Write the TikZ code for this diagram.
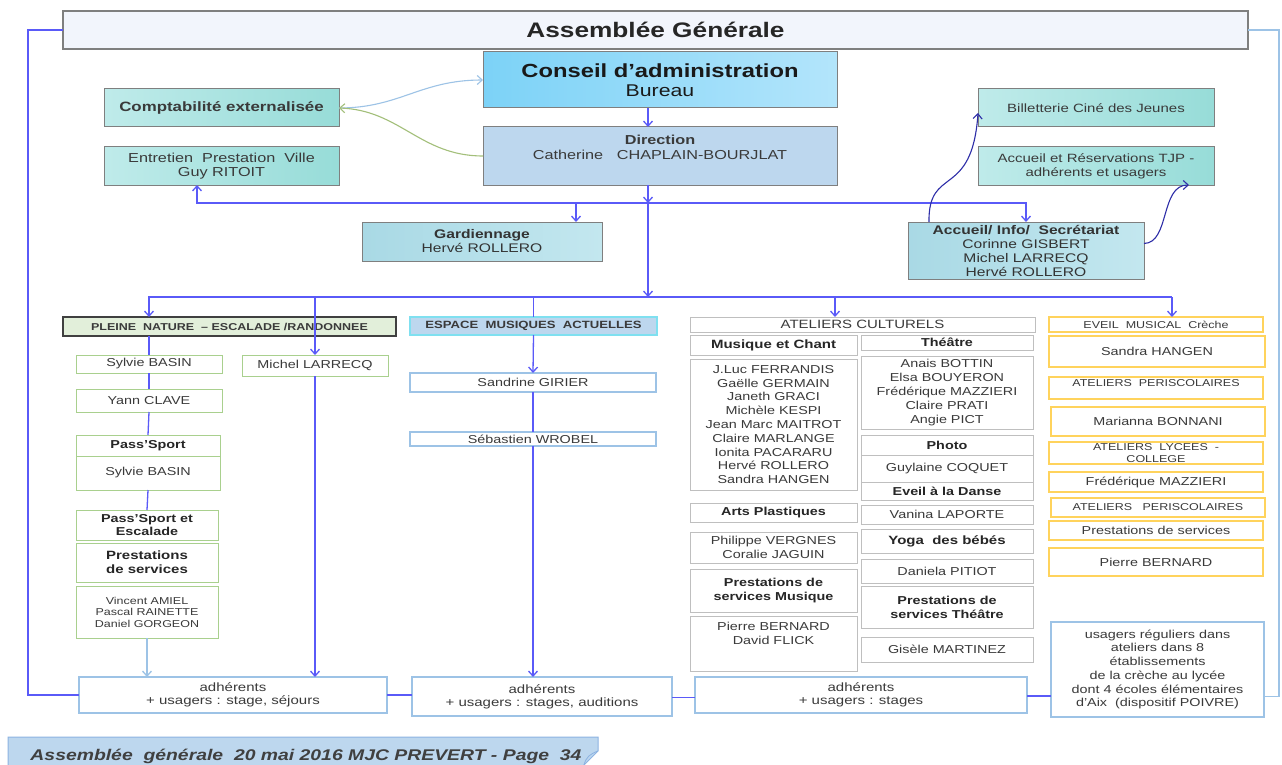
\documentclass[tikz,border=0pt]{standalone}
\usepackage{fontspec}
\setmainfont{Liberation Sans}[FakeStretch=1.25]
\usetikzlibrary{arrows.meta}
\definecolor{conncol}{HTML}{5A5AF8}
\definecolor{lconncol}{HTML}{9DC3E6}
\definecolor{darkcurve}{HTML}{2E2EA8}
\definecolor{greencurve}{HTML}{A3BF7A}
\definecolor{txt}{HTML}{3A3A3A}
\definecolor{gborder}{HTML}{A9D08E}
\definecolor{oborder}{HTML}{FFD35C}
\definecolor{grayborder}{HTML}{BFBFBF}
\definecolor{bborder}{HTML}{9DC3E6}
\definecolor{boxgray}{HTML}{7F7F7F}
\definecolor{tealL}{HTML}{BFEBEA}
\definecolor{tealR}{HTML}{97DCD8}
\definecolor{caL}{HTML}{7CD2F7}
\definecolor{caR}{HTML}{B3E5FB}
\definecolor{dirfill}{HTML}{BDD7EE}
\definecolor{texL}{HTML}{A9D9E5}
\definecolor{texR}{HTML}{C3E7EF}
\definecolor{pnfill}{HTML}{E2EFDA}
\definecolor{espborder}{HTML}{7FE0F0}
\definecolor{agfill}{HTML}{F2F5FC}
\definecolor{footborder}{HTML}{8DB3E2}
\newcommand\fs[2]{\fontsize{#1}{#2}\selectfont}
\newcommand\bx[7]{\node[#2,minimum width=#5pt,minimum height=#6pt,anchor=north west] (#1) at (#3,#4) {#7};}
\begin{document}
\begin{tikzpicture}[x=1pt,y=-1pt,
  base/.style={inner sep=1pt,outer sep=0pt,align=center,text=txt,font=\fs{11.5}{13.8}},
  bold/.style={font=\fs{11.5}{13.8}\bfseries,text=black!85},
  small/.style={font=\fs{10}{12}},
  gbox/.style={base,draw=gborder,line width=1pt,fill=white},
  obox/.style={base,draw=oborder,line width=1.2pt,fill=white},
  graybox/.style={base,draw=grayborder,line width=1pt,fill=white},
  bbox/.style={base,draw=bborder,line width=1.2pt,fill=white},
  tealbox/.style={base,draw=boxgray,line width=1pt,left color=tealL,right color=tealR,font=\fs{12}{14}},
  texbox/.style={base,draw=boxgray,line width=1pt,left color=texL,right color=texR,font=\fs{12.5}{14},text=black!80},
  conn/.style={draw=conncol,line width=1.3pt},
  lconn/.style={draw=lconncol,line width=1.3pt},
  arr/.style={-{Straight Barb[length=5pt,width=9pt]}},
]
\useasboundingbox (0,0) rectangle (1282,765);
\fill[white] (0,0) rectangle (1282,765);

% top level
\bx{ag}{base,draw=boxgray,line width=1.5pt,fill=agfill,font=\fs{21}{23}\bfseries,text=black!85}{63}{11}{1185}{38}{Assemblée Générale}
\bx{ca}{base,draw=boxgray,line width=1pt,left color=caL,right color=caR,font=\fs{19}{21}\bfseries,text=black!90}{483}{52}{354}{56}{Conseil d'administration\\[-2pt]\mdseries\fs{17}{19}Bureau}
\bx{dir}{base,draw=boxgray,line width=1pt,fill=dirfill,font=\fs{13}{15}}{483}{127}{354}{58}{\textbf{Direction}\\Catherine\ \ \ CHAPLAIN-BOURJLAT\\[3pt]}
\bx{compta}{tealbox,font=\fs{13.5}{15}\bfseries}{104}{89}{235}{38}{Comptabilité externalisée}
\bx{ent}{tealbox,font=\fs{13}{14}}{104}{147}{235}{38}{Entretien\ \ Prestation\ \ Ville\\Guy RITOIT}
\bx{bil}{tealbox}{978}{89}{236}{38}{Billetterie Ciné des Jeunes}
\bx{tjp}{tealbox}{978}{147}{236}{38}{Accueil et Réservations TJP -\\adhérents et usagers}
\bx{gard}{texbox}{362}{222}{240}{39}{\textbf{Gardiennage}\\Hervé ROLLERO}
\bx{acc}{texbox}{908}{222}{236}{57}{\textbf{Accueil/ Info/\ \ Secrétariat}\\Corinne GISBERT\\Michel LARRECQ\\Hervé ROLLERO}

% pleine nature
\bx{pn}{base,draw=black!75,line width=1.2pt,fill=pnfill,font=\fs{10}{12}\bfseries}{63}{317}{333}{19}{PLEINE\ \ NATURE\ \ – ESCALADE /RANDONNEE}
\bx{sb1}{gbox}{76}{355}{146}{18}{Sylvie BASIN}
\bx{yc}{gbox}{76}{389}{146}{23}{Yann CLAVE}
\bx{pst}{gbox,bold}{76}{435}{144}{21}{Pass’Sport}
\bx{psn}{gbox}{76}{456}{144}{34}{Sylvie BASIN}
\bx{pse}{gbox,bold,font=\fs{11.5}{13}\bfseries}{76}{510}{142}{30}{Pass’Sport et\\Escalade}
\bx{prs}{gbox,bold,font=\fs{12}{14}\bfseries}{76}{543}{142}{39}{Prestations\\de services}
\bx{vin}{gbox,small,font=\fs{10}{11.5}}{76}{586}{142}{52}{Vincent AMIEL\\Pascal RAINETTE\\Daniel GORGEON}
\bx{ml}{gbox}{242}{355}{146}{21}{Michel LARRECQ}

% espace musiques
\bx{esp}{base,draw=espborder,line width=1.5pt,fill=dirfill,font=\fs{10.5}{12}\bfseries}{410}{317}{247}{18}{ESPACE\ \ MUSIQUES\ \ ACTUELLES}
\bx{sg}{bbox}{410}{373}{246}{19}{Sandrine GIRIER}
\bx{swr}{bbox}{410}{432}{246}{14}{Sébastien WROBEL}

% ateliers culturels
\bx{atc}{graybox,font=\fs{12}{13}}{690}{317}{345}{15}{ATELIERS CULTURELS}
\bx{mc}{graybox,bold,font=\fs{12}{13}\bfseries}{690}{335}{167}{20}{Musique et Chant}
\bx{mcn}{graybox}{690}{359}{167}{131}{J.Luc FERRANDIS\\Gaëlle GERMAIN\\Janeth GRACI\\Michèle KESPI\\Jean Marc MAITROT\\Claire MARLANGE\\Ionita PACARARU\\Hervé ROLLERO\\Sandra HANGEN}
\bx{ap}{graybox,bold}{690}{503}{167}{19}{Arts Plastiques}
\bx{apn}{graybox}{690}{532}{167}{31}{Philippe VERGNES\\Coralie JAGUIN}
\bx{psm}{graybox,bold,font=\fs{11.5}{14}\bfseries}{690}{569}{167}{43}{Prestations de\\services Musique}
\bx{psmn}{graybox}{690}{616}{167}{55}{Pierre BERNARD\\David FLICK\\[6pt]}
\bx{th}{graybox,bold}{861}{335}{172}{15}{Théâtre}
\bx{thn}{graybox}{861}{356}{172}{73}{Anais BOTTIN\\Elsa BOUYERON\\Frédérique MAZZIERI\\Claire PRATI\\Angie PICT}
\bx{ph}{graybox,bold}{861}{435}{172}{20}{Photo}
\bx{gc}{graybox}{861}{455}{172}{27}{Guylaine COQUET}
\bx{ed}{graybox,bold}{861}{482}{172}{18}{Eveil\ à la Danse}
\bx{vl}{graybox}{861}{505}{172}{19}{Vanina LAPORTE}
\bx{yb}{graybox,bold,font=\fs{12}{13}\bfseries}{861}{529}{172}{24}{Yoga\ \ des bébés}
\bx{dp}{graybox}{861}{559}{172}{24}{Daniela PITIOT}
\bx{pst2}{graybox,bold,font=\fs{11.5}{14}\bfseries}{861}{586}{172}{42}{Prestations de\\services Théâtre}
\bx{gm}{graybox}{861}{637}{172}{25}{Gisèle MARTINEZ}

% eveil musical column
\bx{em}{obox,small}{1049}{317}{214}{15}{EVEIL\ \ MUSICAL\ \ Crèche}
\bx{sh}{obox}{1049}{336}{216}{31}{Sandra HANGEN}
\bx{apa}{obox,small}{1049}{377}{214}{22}{\raisebox{9pt}{ATELIERS\ \ PERISCOLAIRES}}
\bx{mb}{obox}{1051}{407}{214}{29}{Marianna BONNANI}
\bx{alc}{obox,small}{1049}{442}{214}{22}{ATELIERS\ \ LYCEES\ \ -\\COLLEGE}
\bx{fm}{obox}{1049}{472}{214}{20}{Frédérique MAZZIERI}
\bx{apb}{obox,small}{1051}{498}{214}{19}{ATELIERS\ \ \ PERISCOLAIRES}
\bx{pds}{obox}{1049}{521}{214}{19}{Prestations de services}
\bx{pb}{obox}{1049}{548}{214}{28}{Pierre BERNARD}

% bottom
\bx{adh1}{bbox,font=\fs{12}{13}}{79}{677}{308}{36}{adhérents\\+ usagers : stage, séjours}
\bx{adh2}{bbox,font=\fs{12}{13}}{412}{677}{260}{39}{adhérents\\+ usagers : stages, auditions}
\bx{adh3}{bbox,font=\fs{12}{13}}{695}{677}{332}{36}{adhérents\\+ usagers : stages}
\bx{usg}{bbox,font=\fs{11.5}{13.7}}{1051}{622}{213}{95}{usagers réguliers dans\\ateliers dans 8\\établissements\\de la crèche au lycée\\dont 4 écoles élémentaires\\d’Aix\ \ (dispositif POIVRE)}

% coordinates
\coordinate (jd) at (648,203);
\coordinate (jm) at (648,297);
\coordinate (ej) at (197,203);
\coordinate (gj) at (576,203);
\coordinate (atj) at (835,297);
\coordinate (emj) at (1172,297);

% top connectors
\draw[conn,arr] (jd |- ca.south) -- (jd |- dir.north);
\draw[conn,arr] (jd |- dir.south) -- (jd);
\draw[conn,arr] (jd) -- (jm);
\draw[conn,arr] (jd) -- (ej) -- (ej |- ent.south);
\draw[conn,arr] (gj) -- (gj |- gard.north);
\draw[conn,arr] (jd) -| (acc.north);

% curves
\draw[draw=lconncol,line width=1.1pt,arr] (compta.east) .. controls (400,108) and (420,80) .. (ca.west);
\draw[draw=greencurve,line width=1.1pt,arr] (dir.west) .. controls (420,156) and (400,110) .. (compta.east);
\draw[draw=darkcurve,line width=1.1pt,arr] ([xshift=21pt]acc.north west) .. controls (928,165) and (972,200) .. ([yshift=-5pt]bil.west);
\draw[draw=darkcurve,line width=1.1pt,arr] ([yshift=7pt]acc.east) .. controls (1170,243) and (1160,185) .. ([xshift=-25pt]tjp.south east);

% second level
\draw[conn,arr] (jm) -| (pn.north -| sb1.north);
\draw[conn] (jm) -- (emj);
\draw[conn,arr] (atj) -- (atj |- atc.north);
\draw[conn,arr] (emj) -- (emj |- em.north);
\draw[conn] (esp.north |- jm) -- (esp.north);
\draw[conn,arr] (ml.north |- jm) -- (ml.north);
\draw[conn,arr] (ml.south) -- (ml.south |- adh1.north);

% green column
\draw[conn] (pn.south -| sb1.north) -- (sb1.north);
\draw[conn] (sb1.south) -- (yc.north);
\draw[conn] (yc.south) -- (pst.north);
\draw[conn] (psn.south) -- (pse.north);
\draw[lconn,arr] (vin.south) -- (vin.south |- adh1.north);

% espace column
\draw[conn,arr] (esp.south) -- (sg.north);
\draw[conn] (sg.south) -- (swr.north);
\draw[conn,arr] (swr.south) -- (swr.south |- adh2.north);

% bottom links
\draw[conn] (adh1.east) -- (adh1.east -| adh2.west);
\draw[conn] ([yshift=-1pt]adh2.east) -- ([yshift=-1pt]adh2.east -| adh3.west);
\draw[conn] ([yshift=-1pt]adh3.east) -- ([yshift=-1pt]adh3.east -| usg.west);

% outer lines
\draw[conn] (ag.west) -- ++(-35,0) |- (adh1.west);
\draw[lconn] (ag.east) -- ++(31,0) |- ([yshift=-27pt]usg.east);

% footer
\fill[dirfill] (8,737) -- (598,737) -- (598,751) -- (584,765) -- (8,765) -- cycle;
\draw[draw=footborder,line width=1pt] (8,765) -- (8,737) -- (598,737) -- (598,751) -- (584,765);
\draw[draw=footborder,line width=0.8pt] (598,751) .. controls (590,754) and (586,757) .. (584,765);
\node[inner sep=0pt,font=\fs{15.5}{17}\bfseries\itshape,text=black!75] (foot) at (306,756) {Assemblée\ \ générale\ \ 20\ mai\ 2016\ MJC\ PREVERT\ -\ Page\ \ 34};
\end{tikzpicture}
\end{document}
